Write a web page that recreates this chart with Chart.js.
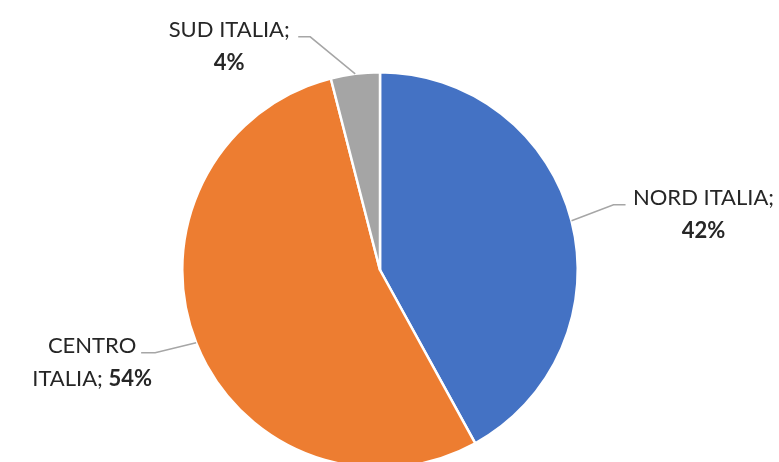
<!DOCTYPE html>
<html>
<head>
<meta charset="utf-8">
<script src="https://cdn.jsdelivr.net/npm/chart.js@4"></script>
<style>
  html, body { margin: 0; padding: 0; background: #fff; overflow: hidden; }
  #wrap { width: 779px; height: 540px; }
</style>
</head>
<body>
<div id="wrap"><canvas id="pie" width="779" height="540"></canvas></div>
<script>
(() => {
  'use strict';

  // data
  const CATEGORIES = ['NORD ITALIA', 'CENTRO ITALIA', 'SUD ITALIA'];
  const VALUES = [42, 54, 4];
  const COLORS = ['#4472C4', '#ED7D31', '#A5A5A5'];

  // words of the name kept on the first label line
  const FIRST_LINE_WORDS = [2, 1, 2];

  // label placement, relative to the slice's outer mid point
  const LABEL_LAYOUT = [
    { elbow: [42, -16], end: [54, -16], text: [132, -23] },
    { elbow: [-41, 10], end: [-55, 10], text: [-104, 3] },
    { elbow: [-45, -37], end: [-57, -37], text: [-126, -44] },
  ];

  const FONT = 'Lato, "Open Sans", sans-serif';
  const FONT_SIZE = 22;
  const LINE_H = 33;
  const TEXT_COLOR = '#262626';
  const LEADER_COLOR = '#A6A6A6';

  // split label into lines of [text, bold] segments
  const label_lines = (i) => {
    const words = (CATEGORIES[i] + ';').split(' '),
          n = FIRST_LINE_WORDS[i],
          pct = VALUES[i] + '%',
          first = words.slice(0, n).join(' '),
          rest = words.slice(n).join(' ');
    const lines = [[[first, false]]];
    lines.push(rest ? [[rest + ' ', false], [pct, true]] : [[pct, true]]);
    return lines;
  };

  const labels_plugin = {
    id: 'leaderLabels',
    afterDraw(chart) {
      const ctx = chart.ctx,
            meta = chart.getDatasetMeta(0);
      ctx.save();
      meta.data.forEach((arc, i) => {
        const {x, y, startAngle, endAngle, outerRadius} = arc.getProps(
          ['x', 'y', 'startAngle', 'endAngle', 'outerRadius'], true);
        const mid = (startAngle + endAngle) / 2,
              ax = x + Math.cos(mid) * outerRadius,
              ay = y + Math.sin(mid) * outerRadius,
              lay = LABEL_LAYOUT[i];

        // leader line
        ctx.strokeStyle = LEADER_COLOR;
        ctx.lineWidth = 1.5;
        ctx.beginPath();
        ctx.moveTo(ax, ay);
        ctx.lineTo(ax + lay.elbow[0], ay + lay.elbow[1]);
        ctx.lineTo(ax + lay.end[0], ay + lay.end[1]);
        ctx.stroke();

        // text lines, centered
        const cx = ax + lay.text[0];
        let cy = ay + lay.text[1];
        ctx.fillStyle = TEXT_COLOR;
        ctx.textBaseline = 'middle';
        ctx.textAlign = 'left';
        label_lines(i).forEach((segs) => {
          const font_of = (b) => (b ? 'bold ' : '') + FONT_SIZE + 'px ' + FONT;
          const w = segs.reduce((s, [t, b]) => {
            ctx.font = font_of(b);
            return s + ctx.measureText(t).width;
          }, 0);
          let tx = cx - w / 2;
          segs.forEach(([t, b]) => {
            ctx.font = font_of(b);
            ctx.fillText(t, tx, cy);
            tx += ctx.measureText(t).width;
          });
          cy += LINE_H;
        });
      });
      ctx.restore();
    },
  };

  new Chart(document.getElementById('pie'), {
    type: 'pie',
    data: {
      labels: CATEGORIES,
      datasets: [{
        data: VALUES,
        backgroundColor: COLORS,
        borderColor: '#fff',
        borderWidth: 2.5,
      }],
    },
    options: {
      responsive: false,
      animation: false,
      layout: { padding: { left: 181, right: 200, top: 71, bottom: 71 } },
      plugins: {
        legend: { display: false },
        tooltip: { enabled: false },
      },
    },
    plugins: [labels_plugin],
  });
})();
</script>
</body>
</html>
